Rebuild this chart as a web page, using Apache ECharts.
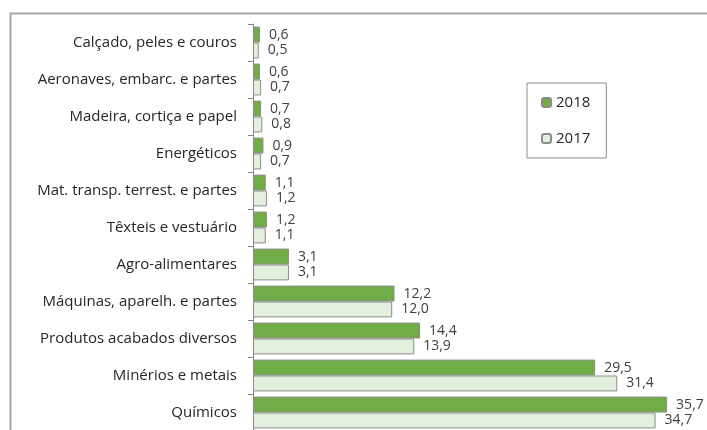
<!DOCTYPE html>
<html>
<head>
<meta charset="utf-8">
<script src="https://cdn.jsdelivr.net/npm/echarts@6/dist/echarts.min.js"></script>
<style>
  html, body { margin: 0; padding: 0; background: #fff; }
  #chart { width: 707px; height: 430px; }
</style>
</head>
<body>
<div id="chart"></div>
<script>
// categorias (de cima para baixo)
const categories = [
  'Calçado, peles e couros',
  'Aeronaves, embarc. e partes',
  'Madeira, cortiça e papel',
  'Energéticos',
  'Mat. transp. terrest. e partes',
  'Têxteis e vestuário',
  'Agro-alimentares',
  'Máquinas, aparelh. e partes',
  'Produtos acabados diversos',
  'Minérios e metais',
  'Químicos'
]
const values2018 = [0.6, 0.6, 0.7, 0.9, 1.1, 1.2, 3.1, 12.2, 14.4, 29.5, 35.7]
const values2017 = [0.5, 0.7, 0.8, 0.7, 1.2, 1.1, 3.1, 12.0, 13.9, 31.4, 34.7]
const seriesNames = ['2018', '2017']

const font = '"Open Sans", sans-serif'
const fmt = p => p.value.toFixed(1).replace('.', ',')

const chart = echarts.init(document.getElementById('chart'), null, { renderer: 'canvas' })

const barLabel = {
  show: true,
  position: 'right',
  distance: 9,
  color: '#404040',
  fontSize: 14,
  fontFamily: font,
  formatter: fmt
}

chart.setOption({
  animation: false,
  backgroundColor: '#fff',
  textStyle: { fontFamily: font },
  graphic: [{
    type: 'rect',
    shape: { x: 10.5, y: 13.5, width: 720, height: 440 },
    style: { fill: 'none', stroke: '#a6a6a6', lineWidth: 2 },
    silent: true
  }],
  legend: {
    data: seriesNames,
    orient: 'vertical',
    left: 527,
    top: 83,
    itemWidth: 9,
    itemHeight: 9,
    itemGap: 21,
    padding: [12, 16, 12, 14],
    borderColor: '#8c8c8c',
    borderWidth: 1,
    textStyle: { fontSize: 15, color: '#262626', fontFamily: font }
  },
  grid: {
    left: 253,
    top: 24,
    width: 464,
    height: 407,
    outerBoundsMode: 'none'
  },
  xAxis: {
    type: 'value',
    min: 0,
    max: 40,
    show: false
  },
  yAxis: {
    type: 'category',
    data: categories,
    inverse: true,
    axisLine: { lineStyle: { color: '#868686', width: 1 } },
    axisTick: { show: true, length: 5, lineStyle: { color: '#868686' } },
    axisLabel: {
      margin: 16,
      fontSize: 15,
      color: '#262626',
      fontFamily: font
    }
  },
  series: [
    {
      name: seriesNames[0],
      type: 'bar',
      data: values2018,
      barGap: '0%',
      barCategoryGap: '14%',
      itemStyle: { color: '#70ad47', borderColor: '#8c8c8c', borderWidth: 1 },
      label: barLabel
    },
    {
      name: seriesNames[1],
      type: 'bar',
      data: values2017,
      itemStyle: { color: '#e2efda', borderColor: '#8c8c8c', borderWidth: 1 },
      label: barLabel
    }
  ]
})
</script>
</body>
</html>
